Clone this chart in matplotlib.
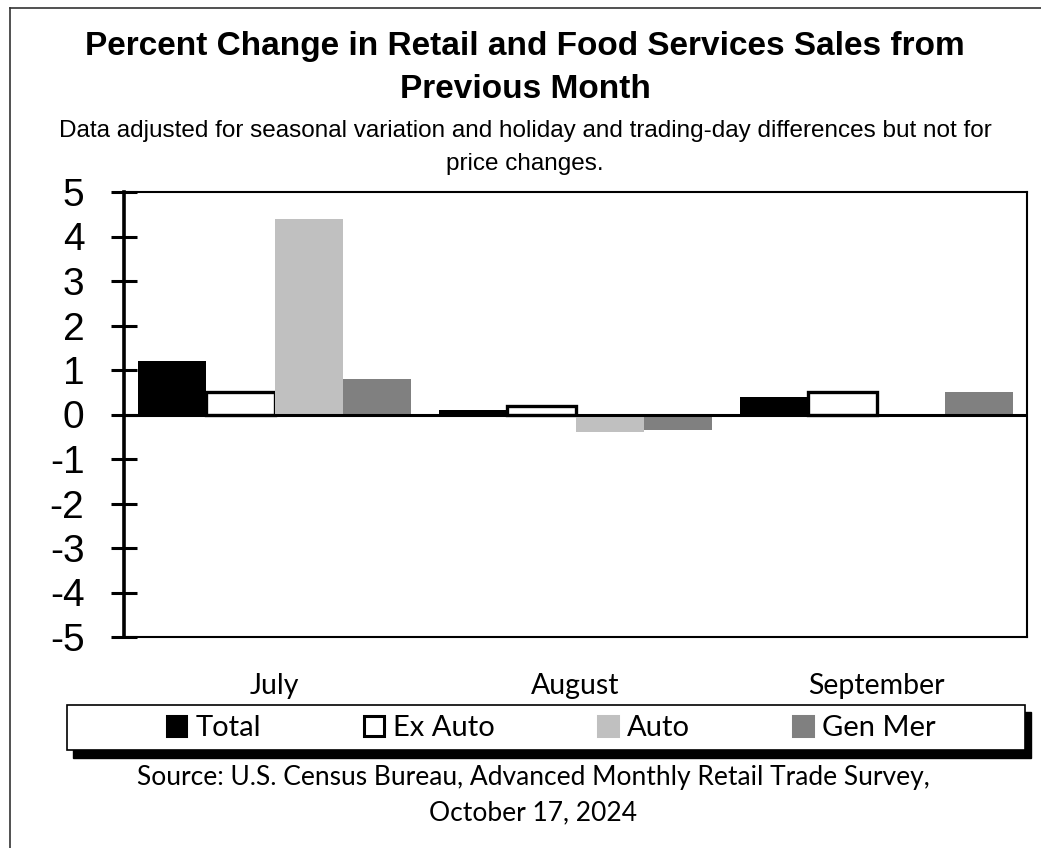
import matplotlib
matplotlib.use("Agg")
import matplotlib.pyplot as plt
import numpy as np
from matplotlib.patches import Rectangle
from matplotlib.lines import Line2D

months = ["July", "August", "September"]
series = ["Total", "Ex Auto", "Auto", "Gen Mer"]
total = [1.2, 0.1, 0.4]
ex_auto = [0.5, 0.2, 0.5]
auto = [4.4, -0.4, 0.0]
gen_mer = [0.8, -0.35, 0.5]
yticks = [5, 4, 3, 2, 1, 0, -1, -2, -3, -4, -5]

values = [total, ex_auto, auto, gen_mer]
faces = ["black", "white", "#c0c0c0", "#808080"]
edges = ["black", "black", "#c0c0c0", "#808080"]
lws = [0, 2.4, 0, 0]

W, H = 1041, 848
fig = plt.figure(figsize=(W / 100, H / 100), dpi=100)
fig.patch.set_facecolor("white")

ax = fig.add_axes([124 / W, 1 - 637 / H, (1027 - 124) / W, (637 - 192) / H])
x = np.arange(len(months))
bw = 0.2265
for i, (vals, fc, ec, lw) in enumerate(zip(values, faces, edges, lws)):
    offs = (i - 1.5) * bw
    ax.bar(x + offs, vals, width=bw, color=fc, edgecolor=ec, linewidth=lw,
           label=series[i], zorder=3)

ax.axhline(0, color="black", linewidth=2.2, zorder=4)
ax.set_xlim(-0.5, 2.5)
ax.set_ylim(-5, 5)
ax.set_yticks(yticks)
ax.set_yticklabels([str(v) for v in yticks], family="Liberation Sans", fontsize=28)
ax.tick_params(axis="y", direction="inout", length=19, width=2.2, pad=19)
ax.tick_params(axis="x", length=0, pad=26)
ax.set_xticks(x)
ax.set_xticklabels(months, family="Lato", fontsize=20.5)
for s in ["top", "right", "bottom"]:
    ax.spines[s].set_linewidth(1.5)
ax.spines["left"].set_linewidth(2.6)

# Title and subtitle
fig.text(525 / W, 1 - 47 / H, "Percent Change in Retail and Food Services Sales from",
         ha="center", va="center", family="Liberation Sans", weight="bold", fontsize=24)
fig.text(525 / W, 1 - 90 / H, "Previous Month",
         ha="center", va="center", family="Liberation Sans", weight="bold", fontsize=24)
fig.text(525 / W, 1 - 131 / H,
         "Data adjusted for seasonal variation and holiday and trading-day differences but not for",
         ha="center", va="center", family="Liberation Sans", fontsize=17.5)
fig.text(525 / W, 1 - 164 / H, "price changes.",
         ha="center", va="center", family="Liberation Sans", fontsize=17.5)

# Legend box with shadow
fig.patches.append(Rectangle((73 / W, 1 - 758 / H), (1031 - 73) / W, (758 - 712) / H,
                             transform=fig.transFigure, facecolor="black", edgecolor="black",
                             zorder=1))
fig.patches.append(Rectangle((67 / W, 1 - 750 / H), (1025 - 67) / W, (750 - 705) / H,
                             transform=fig.transFigure, facecolor="white", edgecolor="black",
                             linewidth=1.2, zorder=2))
leg_handles = [Rectangle((0, 0), 1, 1, facecolor=fc, edgecolor=("black" if i == 1 else fc),
                         linewidth=2.2) for i, fc in enumerate(faces)]
leg = fig.legend(leg_handles, series, loc="center", bbox_to_anchor=(551 / W, 1 - 728 / H),
                 ncol=4, frameon=False, prop={"family": "Lato", "size": 21},
                 handlelength=0.68, handleheight=0.68, handletextpad=0.3, columnspacing=3.55)
leg.set_zorder(5)

# Source
fig.text(533 / W, 1 - 777 / H,
         "Source: U.S. Census Bureau, Advanced Monthly Retail Trade Survey,",
         ha="center", va="center", family="Lato", fontsize=19)
fig.text(533 / W, 1 - 813 / H, "October 17, 2024",
         ha="center", va="center", family="Lato", fontsize=19)

# Outer border (left and top)
fig.add_artist(Line2D([10 / W, 10 / W], [0, 1 - 8 / H], transform=fig.transFigure,
                      color="#333333", linewidth=1.2))
fig.add_artist(Line2D([10 / W, 1], [1 - 8 / H, 1 - 8 / H], transform=fig.transFigure,
                      color="#333333", linewidth=1.2))

fig.savefig("out.png", dpi=100)
